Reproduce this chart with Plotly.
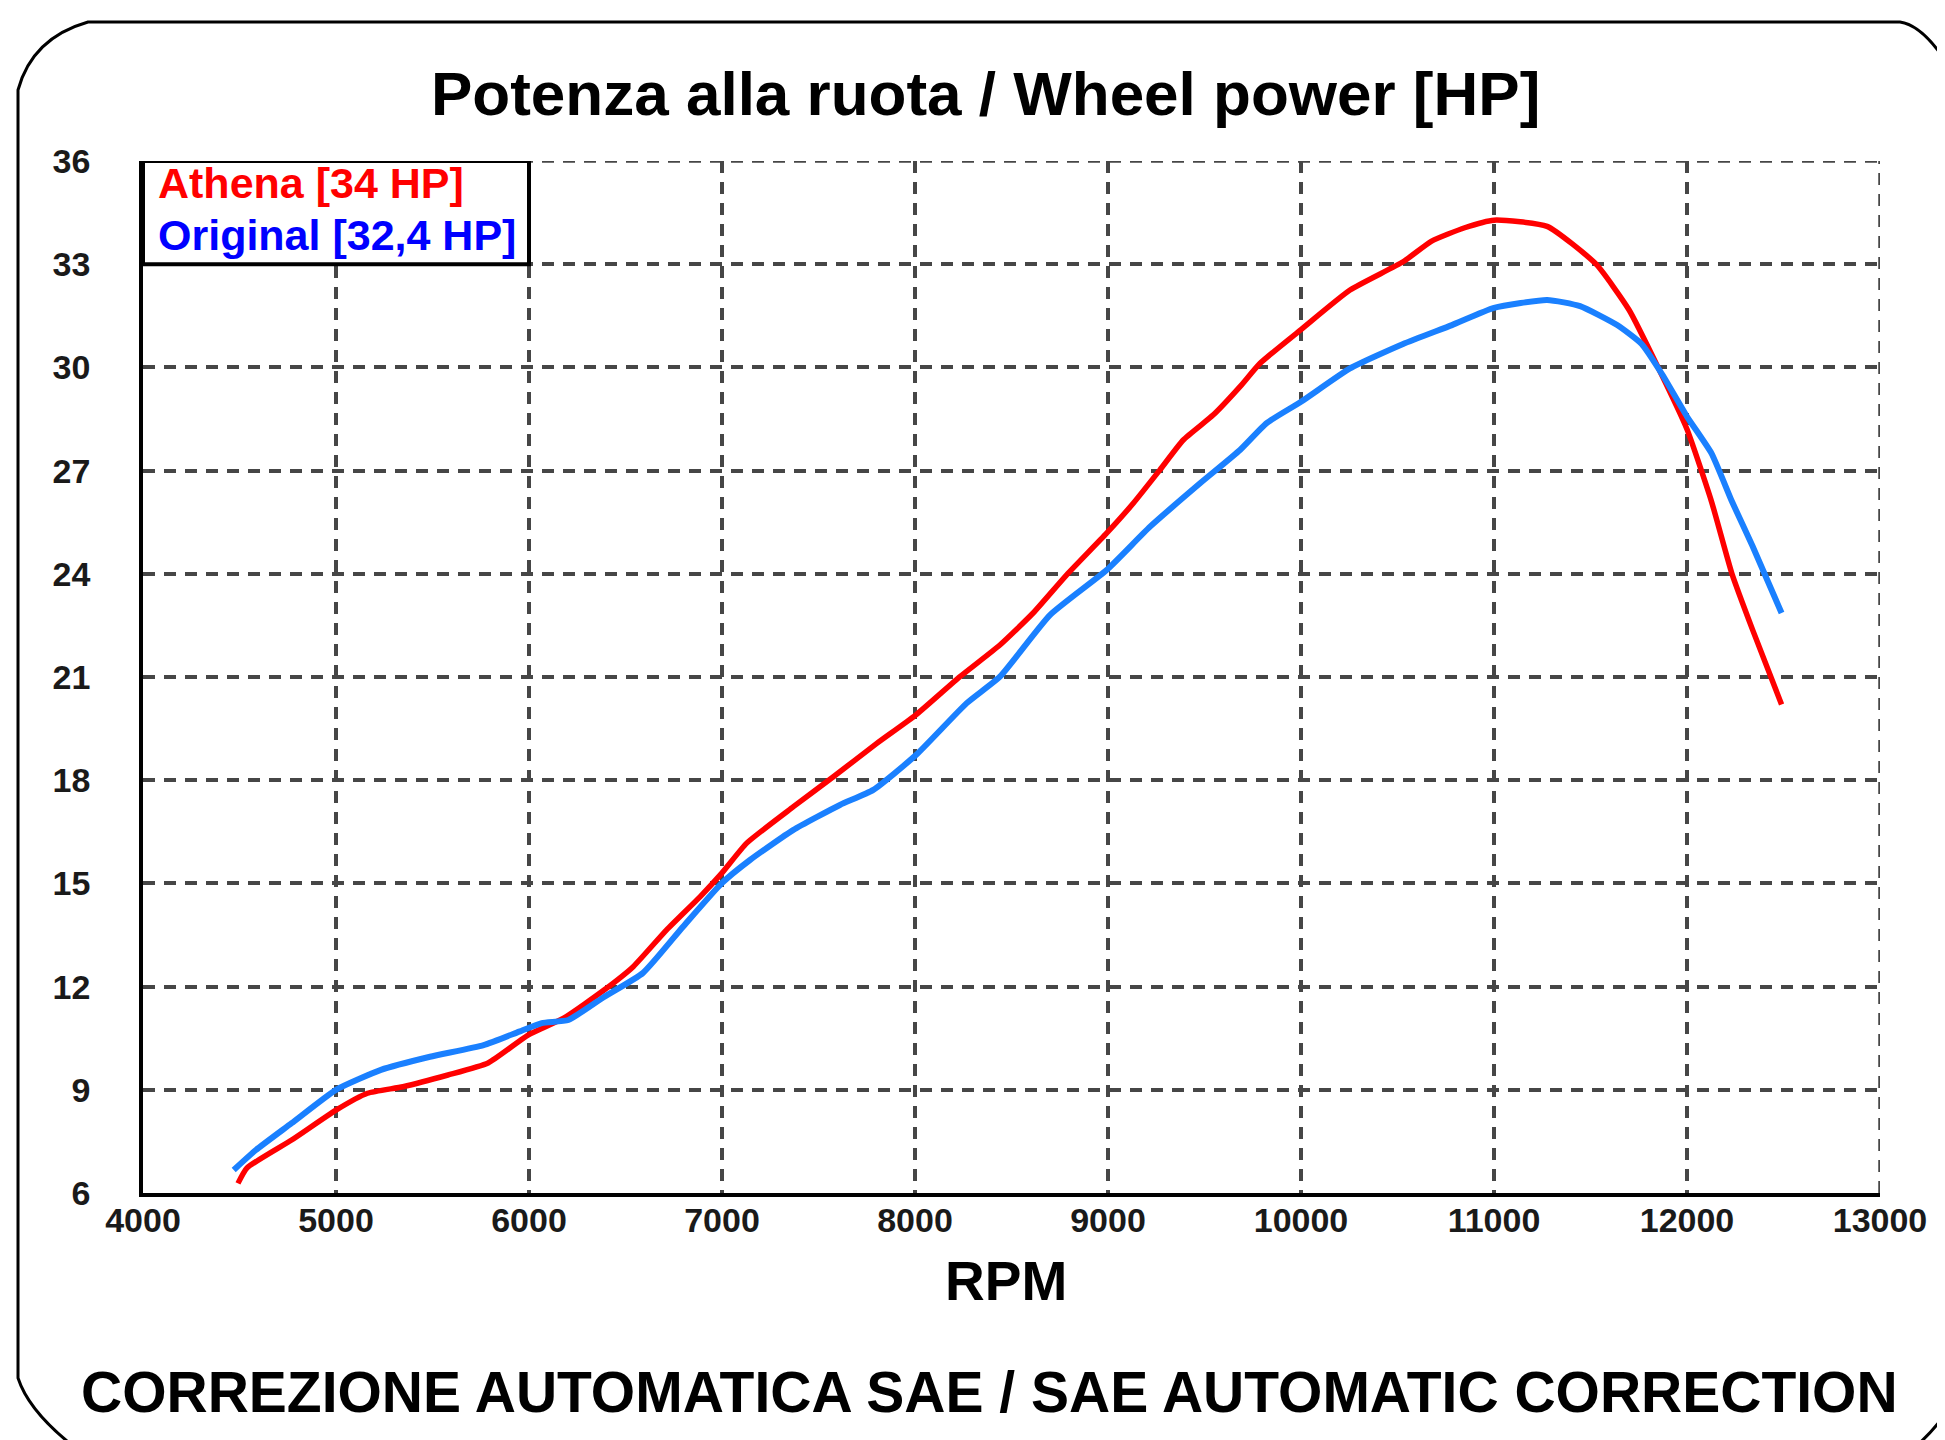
import plotly.graph_objects as go

# ---------------- data ----------------
athena_rpm = [4492, 4539, 4770, 5000, 5163, 5347, 5580, 5788, 5995, 6182, 6389, 6540, 6713, 6886,
              6998, 7128, 7370, 7577, 7802, 8005, 8233, 8440, 8612, 8786, 8993, 9131, 9269, 9390,
              9546, 9684, 9788, 10000, 10254, 10529, 10677, 10848, 11000, 11275, 11529, 11700,
              11850, 12000, 12127, 12233, 12340, 12490]
athena_hp = [6.28, 6.73, 7.54, 8.41, 8.9, 9.09, 9.43, 9.78, 10.59, 11.09, 11.9, 12.58, 13.65, 14.61,
             15.29, 16.17, 17.23, 18.1, 19.07, 19.9, 21.01, 21.93, 22.86, 23.97, 25.18, 26.05, 27.02, 27.89,
             28.62, 29.44, 30.12, 31.1, 32.25, 33.07, 33.67, 34.06, 34.28, 34.1, 33.0, 31.67,
             30.0, 28.2, 26.1, 24.0, 22.37, 20.2]

original_rpm = [4470, 4585, 4770, 5000, 5233, 5487, 5765, 5949, 6066, 6204, 6389, 6591, 6798, 6998,
                7145, 7368, 7611, 7784, 8005, 8268, 8440, 8699, 8993, 9218, 9477, 9684, 9822, 10000,
                10254, 10529, 10782, 11000, 11275, 11446, 11638, 11765, 11872, 12000, 12127, 12233,
                12340, 12490]
original_hp = [6.67, 7.25, 8.03, 9.0, 9.58, 9.96, 10.3, 10.69, 10.94, 11.03, 11.7, 12.4, 13.74, 15.0,
               15.68, 16.55, 17.28, 17.72, 18.73, 20.24, 21.01, 22.8, 24.11, 25.37, 26.63, 27.6, 28.38, 29.0,
               29.97, 30.68, 31.23, 31.73, 31.96, 31.78, 31.23, 30.68, 29.79, 28.57, 27.5, 26.1,
               24.8, 22.86]

x_ticks = [4000, 5000, 6000, 7000, 8000, 9000, 10000, 11000, 12000, 13000]
y_ticks = [6, 9, 12, 15, 18, 21, 24, 27, 30, 33, 36]

legend_labels = ["Athena [34 HP]", "Original [32,4 HP]"]
title_text = "Potenza alla ruota / Wheel power [HP]"
x_title = "RPM"
footer_text = "CORREZIONE AUTOMATICA SAE / SAE AUTOMATIC CORRECTION"

# ---------------- layout geometry (page pixels) ----------------
PAGE_W, PAGE_H = 1945, 1440
OFF = 8                              # default body margin of the html page
W, H = PAGE_W - OFF, PAGE_H - OFF    # figure size
L, R, T, B = 143, 1880, 161, 1193    # plot area in page pixels
PW, PH = R - L, B - T


def pp(xpix, ypix):
    return (xpix - L) / PW, (B - ypix) / PH


FONT = "Liberation Sans, Arial, Helvetica, sans-serif"
RED = "#ff0000"
BLUE = "#1a80ff"
GRID = "#464646"
DASH = "12px,9px"

fig = go.Figure()
fig.add_trace(go.Scatter(x=athena_rpm, y=athena_hp, mode="lines",
                         line=dict(color=RED, width=5.5, shape="spline", smoothing=0.5),
                         name=legend_labels[0]))
fig.add_trace(go.Scatter(x=original_rpm, y=original_hp, mode="lines",
                         line=dict(color=BLUE, width=6, shape="spline", smoothing=0.5),
                         name=legend_labels[1]))

axis_common = dict(showgrid=True, gridcolor=GRID, gridwidth=3.5, griddash=DASH,
                   zeroline=False, ticks="",
                   tickfont=dict(family=FONT, size=34, color="#1a1a1a", weight="bold"))

fig.update_xaxes(range=[x_ticks[0], x_ticks[-1]], tickvals=x_ticks,
                 ticktext=[str(v) for v in x_ticks],
                 showline=True, linecolor="black", linewidth=3.5,
                 ticklabelstandoff=-6, **axis_common)
fig.update_yaxes(range=[y_ticks[0], y_ticks[-1]], tickvals=y_ticks,
                 ticktext=[str(v) for v in y_ticks],
                 showline=True, linecolor="black", linewidth=3.5,
                 ticklabelstandoff=42, **axis_common)

shapes = []
# dashed border lines at top (36) and right (13000)
shapes.append(dict(type="line", xref="x", yref="y", x0=x_ticks[0], x1=x_ticks[-1],
                   y0=y_ticks[-1], y1=y_ticks[-1],
                   line=dict(color=GRID, width=3.5, dash=DASH), layer="below"))
shapes.append(dict(type="line", xref="x", yref="y", x0=x_ticks[-1], x1=x_ticks[-1],
                   y0=y_ticks[0], y1=y_ticks[-1],
                   line=dict(color=GRID, width=3.5, dash=DASH), layer="below"))
# legend box
shapes.append(dict(type="rect", xref="x", yref="y", x0=4000, x1=6000, y0=33, y1=36,
                   line=dict(color="black", width=4), fillcolor="white", layer="above"))

# outer frame with bevelled corners
pts = {
    "a": pp(88, 22), "b": pp(1900, 22), "c1": pp(1928, 26), "c": pp(1960, 85),
    "d": pp(1960, 1385), "e1": pp(1945, 1425), "e": pp(1905, 1455),
    "f": pp(85, 1455), "g1": pp(30, 1415), "g": pp(18, 1378),
    "h": pp(18, 90), "i1": pp(32, 38),
}


def s(p):
    return f"{p[0]:.5f},{p[1]:.5f}"


frame_path = (f"M {s(pts['a'])} L {s(pts['b'])} Q {s(pts['c1'])} {s(pts['c'])} "
              f"L {s(pts['d'])} Q {s(pts['e1'])} {s(pts['e'])} L {s(pts['f'])} "
              f"Q {s(pts['g1'])} {s(pts['g'])} L {s(pts['h'])} Q {s(pts['i1'])} {s(pts['a'])} Z")
shapes.append(dict(type="path", xref="paper", yref="paper", path=frame_path,
                   line=dict(color="black", width=3), fillcolor="rgba(0,0,0,0)", layer="above"))

annotations = []
tx, ty = pp(985, 93)
annotations.append(dict(text=title_text, x=tx, y=ty, xref="paper", yref="paper",
                        xanchor="center", yanchor="middle", showarrow=False,
                        font=dict(family=FONT, size=62, color="black", weight="bold")))
rx, ry = pp(1006, 1281)
annotations.append(dict(text=x_title, x=rx, y=ry, xref="paper", yref="paper",
                        xanchor="center", yanchor="middle", showarrow=False,
                        font=dict(family=FONT, size=55, color="black", weight="bold")))
fx, fy = pp(989, 1392)
annotations.append(dict(text=footer_text, x=fx, y=fy, xref="paper", yref="paper",
                        xanchor="center", yanchor="middle", showarrow=False,
                        font=dict(family=FONT, size=57, color="black", weight="bold")))
for label, color, ypix in [(legend_labels[0], RED, 183), (legend_labels[1], "#0000ff", 235)]:
    lx, ly = pp(156, ypix)
    annotations.append(dict(text=label, x=lx, y=ly, xref="paper", yref="paper",
                            xanchor="left", yanchor="middle", showarrow=False,
                            font=dict(family=FONT, size=43, color=color, weight="bold")))

fig.update_layout(width=W, height=H, autosize=False,
                  margin=dict(l=L - OFF, r=PAGE_W - R, t=T - OFF, b=PAGE_H - B, pad=0),
                  paper_bgcolor="white", plot_bgcolor="white",
                  showlegend=False, shapes=shapes, annotations=annotations)

fig.write_html("out.html")
